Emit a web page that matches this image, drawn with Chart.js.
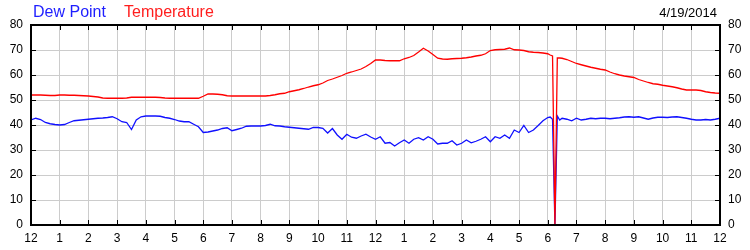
<!DOCTYPE html>
<html>
<head>
<meta charset="utf-8">
<script src="https://cdn.jsdelivr.net/npm/chart.js@4/dist/chart.umd.min.js"></script>
<style>
  body { margin: 0; background: #fff; }
  #wrap { position: relative; width: 750px; height: 250px; font-family: "Liberation Sans", Arial, sans-serif; }
  .legend { position: absolute; top: 4px; font-size: 16px; line-height: 16px; white-space: nowrap; }
  #date { position: absolute; top: 6px; right: 33px; font-size: 13px; line-height: 13px; color: #000; }
</style>
</head>
<body>
<div id="wrap">
  <canvas id="chartCanvas" width="750" height="250"></canvas>
  <span class="legend" style="left:33px;color:#1e1eff">Dew Point</span>
  <span class="legend" style="left:124px;color:#ff1e1e">Temperature</span>
  <span id="date">4/19/2014</span>
</div>
<script>
const hourLabels = ["12","1","2","3","4","5","6","7","8","9","10","11","12","1","2","3","4","5","6","7","8","9","10","11","12"];

// one reading every 10 minutes, every 5 minutes between 18:00 and 18:30
const times = [];
for (let m = 0; m <= 1440; m += (m >= 1080 && m < 1110) ? 5 : 10) times.push(m / 60);

const temperature = [
  52, 52, 52, 51.9, 51.8, 51.8,
  52, 52, 51.9, 51.9, 51.8, 51.7,
  51.6, 51.4, 51.2, 50.8, 50.7, 50.7,
  50.7, 50.7, 50.8, 51.1, 51.1, 51.1,
  51.1, 51.1, 51.1, 51, 50.8, 50.7,
  50.7, 50.7, 50.7, 50.7, 50.7, 50.7,
  51.5, 52.4, 52.4, 52.3, 52.1, 51.7,
  51.6, 51.6, 51.6, 51.6, 51.6, 51.6,
  51.6, 51.6, 51.8, 52.1, 52.5, 52.7,
  53.3, 53.7, 54.1, 54.6, 55.2, 55.7,
  56.1, 56.8, 57.8, 58.4, 59.1, 59.8,
  60.7, 61.2, 61.8, 62.4, 63.4, 64.6,
  66, 66, 65.8, 65.7, 65.7, 65.7,
  66.5, 67, 67.8, 69.2, 70.7, 69.6,
  68.2, 66.7, 66.4, 66.3, 66.5, 66.6,
  66.7, 66.9, 67.2, 67.6, 67.9, 68.5,
  69.8, 70.1, 70.2, 70.3, 70.8, 70.1,
  70, 69.8, 69.3, 69.1, 69, 68.8,
  68.5, 68, 67.6, 0, 66.8, 66.8, 66.7, 66.2, 65.4,
  64.6, 64.1, 63.6, 63.1, 62.7, 62.3,
  62, 61.2, 60.5, 60, 59.6, 59.3,
  59, 58.2, 57.6, 57, 56.5, 56.3,
  55.9, 55.6, 55.3, 54.9, 54.4, 54,
  54, 54, 53.8, 53.3, 53, 52.8,
  52.7
];

const dewPoint = [
  42, 42.7, 42.2, 41, 40.5, 40.2,
  40, 40.2, 41, 41.7, 41.9, 42.1,
  42.3, 42.5, 42.7, 42.8, 43, 43.3,
  42.5, 41.3, 41, 38.2, 42, 43.3,
  43.6, 43.6, 43.6, 43.5, 43, 42.7,
  42.2, 41.6, 41.3, 41.3, 40.3, 39.3,
  37, 37.2, 37.6, 38, 38.6, 38.9,
  37.7, 38.2, 38.7, 39.5, 39.6, 39.6,
  39.6, 39.8, 40.3, 39.7, 39.6, 39.3,
  39.1, 38.9, 38.7, 38.5, 38.3, 39,
  39, 38.7, 36.8, 38.6, 36, 34.3,
  36.3, 35.1, 34.7, 35.6, 36.3, 35.2,
  34.3, 35.3, 32.7, 33, 31.6, 32.9,
  34, 32.7, 34.3, 34.9, 34, 35.3,
  34.3, 32.4, 32.7, 32.7, 33.7, 32,
  32.7, 34, 32.9, 33.5, 34.3, 35.3,
  33.3, 35.3, 34.7, 36, 34.7, 38,
  37, 39.8, 37, 38, 39.8, 41.7,
  43, 43.2, 42.3, 0, 43.6, 42, 42.7, 42.3, 41.7,
  42.7, 42, 42.3, 42.7, 42.5, 42.7,
  42.7, 42.5, 42.7, 42.9, 43.2, 43.3,
  43.1, 43.3, 42.8, 42.3, 42.8, 43.1,
  43.1, 43, 43.2, 43.3, 43, 42.7,
  42.3, 42, 42, 42.2, 42, 42.3,
  42.7
];

const tickFont = { family: "'Liberation Sans', Arial, sans-serif", size: 12 };
const gridColor = "#cccccc";

// black frame round the plot and short tick marks pointing inwards
const framePlugin = {
  id: "frame",
  afterDraw(chart) {
    const { ctx, chartArea: a, scales } = chart;
    ctx.save();
    ctx.strokeStyle = "#000";
    ctx.lineWidth = 1;
    ctx.beginPath();
    scales.x.ticks.forEach(t => {
      const x = Math.round(scales.x.getPixelForValue(t.value)) + 0.5;
      ctx.moveTo(x, a.top); ctx.lineTo(x, a.top + 5);
      ctx.moveTo(x, a.bottom); ctx.lineTo(x, a.bottom - 5);
    });
    scales.y.ticks.forEach(t => {
      const y = Math.round(scales.y.getPixelForValue(t.value)) + 0.5;
      ctx.moveTo(a.left, y); ctx.lineTo(a.left + 5, y);
      ctx.moveTo(a.right, y); ctx.lineTo(a.right - 5, y);
    });
    ctx.stroke();
    ctx.lineWidth = 2;
    ctx.strokeRect(a.left, a.top, a.right - a.left, a.bottom - a.top);
    ctx.restore();
  }
};

new Chart(document.getElementById("chartCanvas").getContext("2d"), {
  type: "line",
  data: {
    datasets: [
      {
        label: "Temperature",
        data: times.map((t, i) => ({ x: t, y: temperature[i] })),
        borderColor: "#ff0000",
        borderWidth: 1.3,
        pointRadius: 0,
        tension: 0
      },
      {
        label: "Dew Point",
        data: times.map((t, i) => ({ x: t, y: dewPoint[i] })),
        borderColor: "#1010ff",
        borderWidth: 1.3,
        pointRadius: 0,
        tension: 0
      }
    ]
  },
  options: {
    responsive: false,
    animation: false,
    layout: { padding: { top: 25, left: 0, right: 0, bottom: 0 } },
    plugins: {
      legend: { display: false },
      tooltip: { enabled: false }
    },
    scales: {
      x: {
        type: "linear",
        min: 0,
        max: 24,
        afterFit: s => { s.height = 25; },
        ticks: {
          stepSize: 1,
          color: "#000",
          font: tickFont,
          padding: 6,
          maxRotation: 0,
          autoSkip: false,
          callback: v => hourLabels[v]
        },
        grid: { color: gridColor, drawTicks: false, tickLength: 0 },
        border: { display: false }
      },
      y: {
        position: "left",
        min: 0,
        max: 80,
        afterFit: s => { s.width = 31; },
        ticks: { stepSize: 10, color: "#000", font: tickFont, padding: 8 },
        grid: { color: gridColor, drawTicks: false, tickLength: 0 },
        border: { display: false }
      },
      y2: {
        position: "right",
        min: 0,
        max: 80,
        afterFit: s => { s.width = 30; },
        ticks: { stepSize: 10, color: "#000", font: tickFont, padding: 8 },
        grid: { display: false, drawTicks: false, tickLength: 0 },
        border: { display: false }
      }
    }
  },
  plugins: [framePlugin]
});
</script>
</body>
</html>
